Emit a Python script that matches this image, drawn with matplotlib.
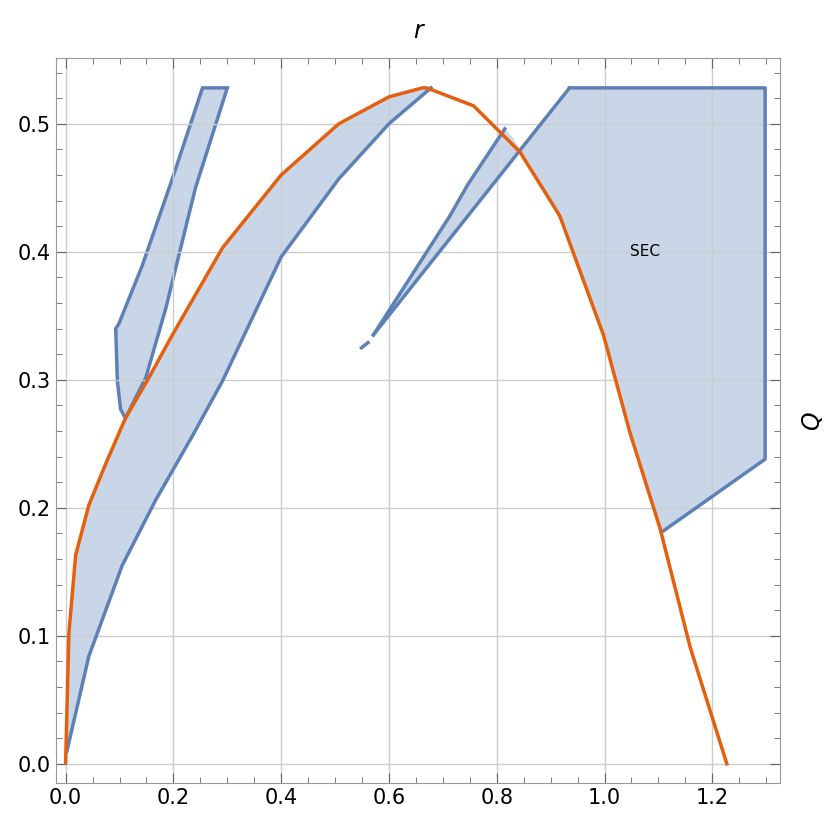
import numpy as np
import matplotlib
matplotlib.use('Agg')
from matplotlib import pyplot as plt
from matplotlib.ticker import MultipleLocator

# orange curve Q(r)
curve_r = [0.0, 0.006, 0.0186, 0.043, 0.074, 0.111, 0.155, 0.198, 0.291, 0.400, 0.507, 0.600, 0.662,
           0.670, 0.757, 0.843, 0.917, 0.998, 1.047, 1.103, 1.159, 1.227]
curve_q = [0.001, 0.102, 0.163, 0.202, 0.234, 0.270, 0.302, 0.335, 0.403, 0.460, 0.500, 0.521, 0.528,
           0.528, 0.514, 0.478, 0.428, 0.335, 0.259, 0.184, 0.091, 0.0]

# lower edge of the main band
band_low_r = [0.0024, 0.043, 0.105, 0.167, 0.235, 0.291, 0.400, 0.507, 0.600, 0.678]
band_low_q = [0.010, 0.084, 0.155, 0.206, 0.256, 0.299, 0.396, 0.457, 0.500, 0.528]
band_up_r = [0.0024, 0.006, 0.0186, 0.043, 0.074, 0.111, 0.155, 0.198, 0.291, 0.400, 0.507, 0.600, 0.662, 0.678]
band_up_q = [0.05, 0.102, 0.163, 0.202, 0.234, 0.270, 0.302, 0.335, 0.403, 0.460, 0.500, 0.521, 0.528, 0.528]

# left sliver
sliver_r = [0.0929, 0.0960, 0.102, 0.111, 0.149, 0.186, 0.241, 0.300, 0.254, 0.198, 0.142, 0.099, 0.0929]
sliver_q = [0.340, 0.299, 0.277, 0.270, 0.302, 0.356, 0.450, 0.528, 0.528, 0.457, 0.389, 0.344, 0.340]

# thin wedge near r=0.7
wedge_up_r = [0.571, 0.713, 0.747, 0.815]
wedge_up_q = [0.335, 0.428, 0.453, 0.496]
wedge_fill_r = [0.571, 0.713, 0.747, 0.815, 0.830, 0.843, 0.571]
wedge_fill_q = [0.335, 0.428, 0.453, 0.496, 0.489, 0.480, 0.335]
diag_r = [0.571, 0.935]
diag_q = [0.335, 0.528]
dash_r = [0.549, 0.561]
dash_q = [0.325, 0.329]

# SEC region
sec_r = [0.843, 0.935, 1.298, 1.298, 1.106, 1.103, 1.047, 0.998, 0.917, 0.843]
sec_q = [0.480, 0.528, 0.528, 0.238, 0.181, 0.184, 0.259, 0.335, 0.428, 0.480]
sec_edge_r = [0.935, 1.298, 1.298, 1.106]
sec_edge_q = [0.528, 0.528, 0.238, 0.181]

blue = '#5e81b5'
fill = '#c9d6e8'
orange = '#e4600e'

fig = plt.figure(figsize=(8.3, 8.24), dpi=100)
ax = fig.add_axes([0.067, 0.050, 0.873, 0.880])

ax.fill(band_low_r + band_up_r[::-1], band_low_q + band_up_q[::-1], color=fill, lw=0)
ax.fill(sliver_r, sliver_q, facecolor=fill, edgecolor=blue, lw=2.5)
ax.fill(wedge_fill_r, wedge_fill_q, color=fill, lw=0)
ax.fill(sec_r, sec_q, color=fill, lw=0)

ax.plot(band_low_r, band_low_q, color=blue, lw=2.5)
ax.plot(wedge_up_r, wedge_up_q, color=blue, lw=2.5)
ax.plot(diag_r, diag_q, color=blue, lw=2.5)
ax.plot(dash_r, dash_q, color=blue, lw=2.5)
ax.plot(sec_edge_r, sec_edge_q, color=blue, lw=2.5)
ax.plot(curve_r, curve_q, color=orange, lw=2.5)

ax.text(1.075, 0.40, 'SEC', fontsize=11, ha='center', va='center')

ax.set_xlim(-0.0186, 1.326)
ax.set_ylim(-0.0148, 0.5516)
ax.xaxis.set_major_locator(MultipleLocator(0.2))
ax.xaxis.set_minor_locator(MultipleLocator(0.05))
ax.yaxis.set_major_locator(MultipleLocator(0.1))
ax.yaxis.set_minor_locator(MultipleLocator(0.02))
ax.xaxis.set_major_formatter(matplotlib.ticker.FormatStrFormatter('%.1f'))
ax.yaxis.set_major_formatter(matplotlib.ticker.FormatStrFormatter('%.1f'))
ax.tick_params(which='both', direction='in', top=True, right=True, colors='#666666', labelcolor='black', labelsize=15)
ax.tick_params(which='major', length=7)
ax.tick_params(which='minor', length=4)
ax.tick_params(axis='x', labeltop=False)
ax.grid(True, which='major', color='#cccccc', lw=1)
for s in ax.spines.values():
    s.set_color('#999999')

ax.set_title('r', fontsize=17, style='italic', pad=14)
ax.yaxis.set_label_position('right')
ax.set_ylabel('Q', fontsize=17, style='italic', rotation=90, labelpad=14)

fig.savefig('out.png')
